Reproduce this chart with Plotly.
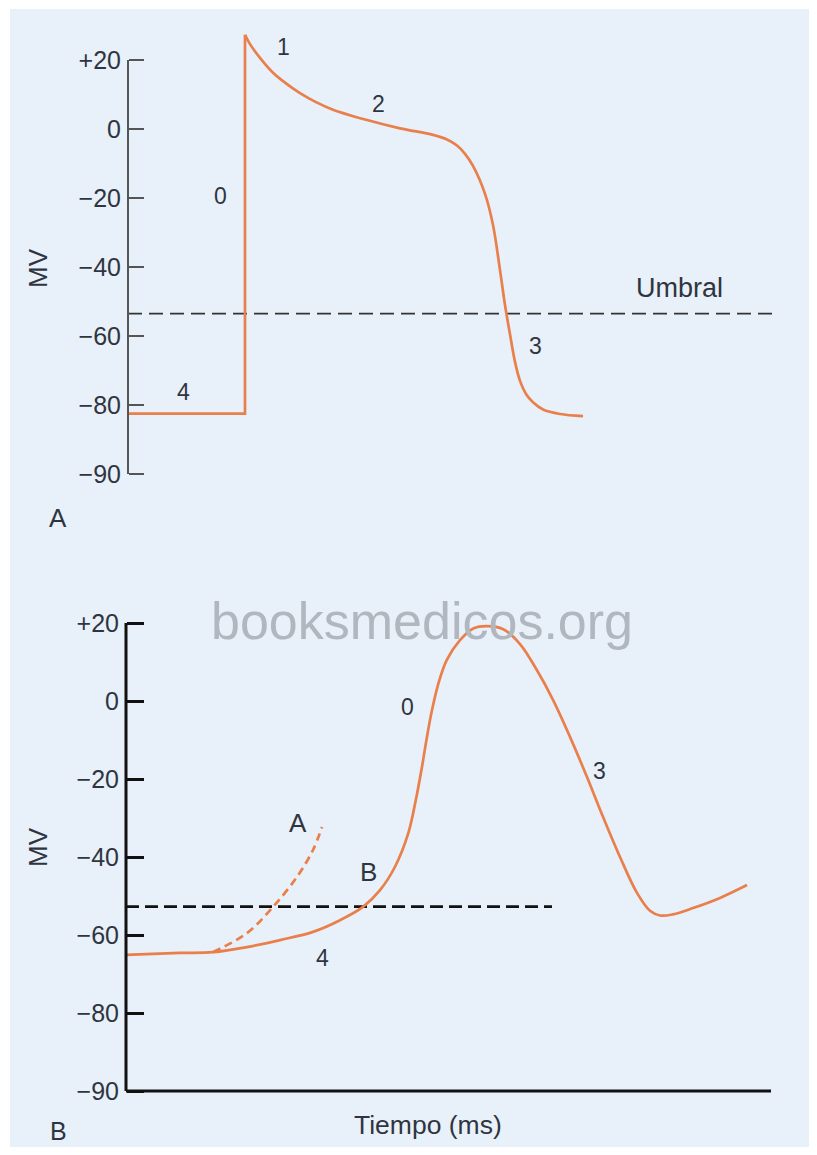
import plotly.graph_objects as go

# The page body keeps its default 8px margin, so the figure is sized to fill
# the 817x1155 window exactly; reference pixel positions are shifted by OFF.
W, H = 801, 1139
OFF = 8

# ---------------- Panel A data (time in ms, voltage in mV) ----------------
a_step_t = [0, 117, 117]
a_step_v = [-82.5, -82.5, 27.3]
a_curve_t = [117, 122, 132, 145, 159, 172, 188, 205, 239, 272, 305, 318, 329, 337, 345, 357, 365, 372, 377, 382, 387,
             392, 398, 405, 415, 432, 455]
a_curve_v = [27.3, 24.6, 20.6, 16.3, 13.0, 10.4, 7.8, 5.6, 2.6, 0.2, -1.7, -2.9, -4.8, -7.2, -10.7, -18.8, -27.8, -40.9,
             -51.0, -59.5, -67.5, -73.0, -76.8, -79.2, -81.3, -82.6, -83.2]
a_umbral_t = [0, 645]
a_umbral_v = [-53.5, -53.5]

# ---------------- Panel B data ----------------
b_curve_t = [0, 54, 87, 121, 154, 187, 214, 237, 254, 269, 282.3, 289.8, 295.7, 300.7, 305.7, 312.3, 320.7, 334, 347.3,
             360.7, 377.3, 394, 410.7, 427, 444, 461, 477, 494, 511, 524, 534, 547, 567, 594, 621]
b_curve_v = [-65.1, -64.6, -64.4, -63.1, -61.3, -59.2, -56.2, -52.8, -48.5, -42.5, -33.9, -25.4, -17.3, -9.6, -2.7,
             4.4, 10.5, 15.6, 18.6, 19.2, 18.4, 14.6, 8.0, 0.3, -9.2, -19.5, -29.7, -40.0, -49.2, -53.8, -55.0,
             -54.7, -53.1, -50.5, -47.2]
b_dash_t = [87, 121, 147, 171, 187, 196]
b_dash_v = [-64.4, -59.5, -52.8, -45.1, -38.2, -32.3]
b_umbral_t = [0, 426]
b_umbral_v = [-52.7, -52.7]

# tick labels (the -90 mark sits one full step below -80, as drawn)
tick_vals = [20, 0, -20, -40, -60, -80, -100]
tick_text = ["+20", "0", "\u221220", "\u221240", "\u221260", "\u221280", "\u221290"]

# phase labels
a_labels = [("1", 155, 23.8), ("2", 250, 7.2), ("0", 92, -19.4), ("4", 55, -76.2), ("3", 407, -62.9)]
b_labels = [("0", 281, -1.5), ("2", 389, 22.6), ("3", 473, -18.0), ("4", 196, -65.9)]
b_letters = [("A", 172, -31.3), ("B", 242, -43.8)]

ORANGE = "#e97f4a"
TXT = "#2f3540"
FONT = "Liberation Sans, Arial, sans-serif"
BG = "#e8f0f9"


def fx(px):
    return (px - OFF) / W


def fy(py):
    return 1 - (py - OFF) / H


def ydomain(p20, k, lo, hi):
    top = p20 - (hi - 20) * k
    bot = p20 + (20 - lo) * k
    return [fy(bot), fy(top)]


fig = go.Figure()

# Panel A
fig.add_trace(go.Scatter(x=a_umbral_t, y=a_umbral_v, mode="lines",
                         line=dict(color="#333333", width=1.6, dash="14px,7px"),
                         xaxis="x", yaxis="y", hoverinfo="skip"))
fig.add_trace(go.Scatter(x=a_step_t, y=a_step_v, mode="lines",
                         line=dict(color=ORANGE, width=2.7), xaxis="x", yaxis="y"))
fig.add_trace(go.Scatter(x=a_curve_t, y=a_curve_v, mode="lines",
                         line=dict(color=ORANGE, width=2.7, shape="spline", smoothing=1),
                         xaxis="x", yaxis="y"))

# Panel B
fig.add_trace(go.Scatter(x=b_umbral_t, y=b_umbral_v, mode="lines",
                         line=dict(color="#111111", width=2.8, dash="13px,6px"),
                         xaxis="x2", yaxis="y2", hoverinfo="skip"))
fig.add_trace(go.Scatter(x=b_dash_t, y=b_dash_v, mode="lines",
                         line=dict(color=ORANGE, width=2.7, dash="8px,5px", shape="spline", smoothing=1),
                         xaxis="x2", yaxis="y2"))
fig.add_trace(go.Scatter(x=b_curve_t, y=b_curve_v, mode="lines",
                         line=dict(color=ORANGE, width=2.7, shape="spline", smoothing=1),
                         xaxis="x2", yaxis="y2"))

ya_range = [-101.5, 30]
yb_range = [-101.5, 22]

common_y = dict(showgrid=False, zeroline=False, showline=False, ticks="inside",
                tickvals=tick_vals, ticktext=tick_text, anchor="free", automargin=False,
                tickfont=dict(size=25, color=TXT, family=FONT), ticklabelstandoff=7)

fig.update_layout(
    width=W, height=H, autosize=False,
    margin=dict(l=0, r=0, t=0, b=0, pad=0, autoexpand=False),
    paper_bgcolor="white", plot_bgcolor="rgba(0,0,0,0)",
    showlegend=False,
    font=dict(family=FONT, color=TXT),
    xaxis=dict(domain=[fx(124), fx(775)], range=[-4, 647], visible=False, automargin=False),
    yaxis=dict(domain=ydomain(60, 3.45, *ya_range), range=ya_range, position=fx(128),
               ticklen=15, tickwidth=2, tickcolor="#555555", **common_y),
    xaxis2=dict(domain=[fx(123), fx(773)], range=[-3, 647], visible=False, anchor="y2", automargin=False),
    yaxis2=dict(domain=ydomain(623, 3.9, *yb_range), range=yb_range, position=fx(126),
                ticklen=17, tickwidth=3, tickcolor="#111111", **common_y),
)

shapes = [
    dict(type="rect", xref="paper", yref="paper", x0=fx(10), x1=1, y0=0, y1=fy(9),
         fillcolor=BG, line=dict(width=0), layer="below"),
    dict(type="line", xref="x", yref="y", x0=0, x1=0, y0=-100, y1=20,
         line=dict(color="#555555", width=2)),
    dict(type="line", xref="x2", yref="y2", x0=0, x1=0, y0=-100, y1=20,
         line=dict(color="#111111", width=3)),
    dict(type="line", xref="x2", yref="y2", x0=0, x1=645, y0=-100, y1=-100,
         line=dict(color="#111111", width=3)),
]
fig.update_layout(shapes=shapes)

ann = []
for txt, t, v in a_labels:
    ann.append(dict(text=txt, x=t, y=v, xref="x", yref="y", showarrow=False,
                    font=dict(size=23, color=TXT)))
for txt, t, v in b_labels:
    ann.append(dict(text=txt, x=t, y=v, xref="x2", yref="y2", showarrow=False,
                    font=dict(size=23, color=TXT)))
for txt, t, v in b_letters:
    ann.append(dict(text=txt, x=t, y=v, xref="x2", yref="y2", showarrow=False,
                    font=dict(size=26, color=TXT)))

for txt, px, py, size, ang in [("Umbral", 679, 288, 27, 0), ("MV", 38, 268, 26, -90),
                               ("MV", 38, 847, 26, -90), ("A", 58, 518, 26, 0),
                               ("B", 58, 1131, 25, 0), ("Tiempo (ms)", 428, 1125, 26.5, 0)]:
    ann.append(dict(text=txt, x=fx(px), y=fy(py), xref="paper", yref="paper", showarrow=False,
                    textangle=ang, xanchor="center", yanchor="middle",
                    font=dict(size=size, color=TXT)))

ann.append(dict(text="booksmedicos.org", x=fx(422), y=fy(621), xref="paper", yref="paper",
                showarrow=False, xanchor="center", yanchor="middle",
                font=dict(size=52, color="#b1b7bf")))

fig.update_layout(annotations=ann)

fig.write_html("out.html")
